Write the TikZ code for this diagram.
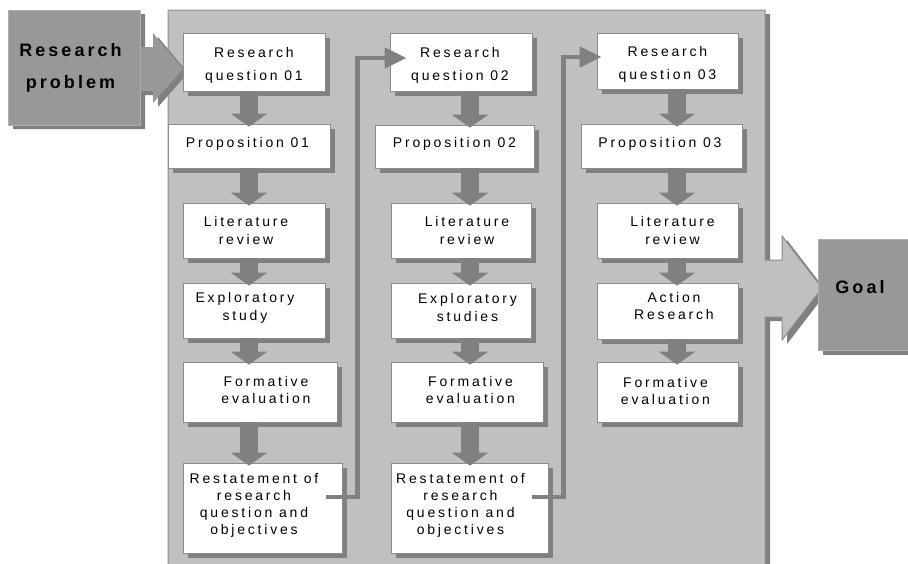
\documentclass[tikz,border=0pt]{standalone}
\usepackage{fontspec}
\setmainfont{Liberation Sans}
\newfontfamily\boxfont[LetterSpace=20]{Liberation Sans}
\newfontfamily\headfont[LetterSpace=17]{Liberation Sans Bold}
\usetikzlibrary{arrows.meta,shadows}
\definecolor{panelfill}{RGB}{192,192,192}
\definecolor{shadegray}{RGB}{128,128,128}
\definecolor{headfill}{RGB}{152,152,152}
\definecolor{edgegray}{RGB}{140,140,140}
\definecolor{lightedge}{RGB}{175,175,175}
\begin{document}
\begin{tikzpicture}[x=1pt,y=-1pt,
  wbox/.style={draw=edgegray,line width=0.8pt,fill=white,inner sep=0pt,
    drop shadow={shadow xshift=5pt,shadow yshift=-5pt,fill=shadegray,opacity=1}},
  tx/.style={font=\boxfont\fontsize{14}{18}\selectfont,align=center,inner sep=0pt,text=black},
  rqtx/.style={tx,font=\boxfont\fontsize{14}{23}\selectfont},
  tighttx/.style={tx,font=\boxfont\fontsize{14}{17}\selectfont},
  hbox/.style={fill=headfill,draw=lightedge,line width=0.8pt,inner sep=0pt},
  htx/.style={font=\headfont\fontsize{18}{32}\selectfont,align=center,inner sep=0pt,text=black},
  down/.style={draw=shadegray,line width=18pt,-{Triangle[width=36pt,length=13pt]},shorten >=-3pt},
  link/.style={draw=shadegray,line width=4.5pt,-{Triangle[width=20pt,length=22pt]}}
]
\useasboundingbox (0,0) rectangle (908,563);
\clip (0,0) rectangle (908,563);

% big panel with arrow to the goal
\fill[shadegray] (173,14) -- (770,14) -- (770,264) -- (787,264) -- (787,240) -- (827,292) -- (787,344) -- (787,321) -- (770,321) -- (770,580) -- (173,580) -- cycle;
\filldraw[fill=panelfill,draw=edgegray,line width=1pt] (168,10) -- (765,10) -- (765,260) -- (782,260) -- (782,236) -- (822,288) -- (782,340) -- (782,317) -- (765,317) -- (765,575) -- (168,575) -- cycle;

% Research problem
\fill[shadegray] (13,14) -- (145,14) -- (145,51) -- (158,51) -- (158,37) -- (188,73) -- (158,107) -- (158,95) -- (145,95) -- (145,129) -- (13,129) -- cycle;
\fill[headfill] (139,47) -- (153,47) -- (153,33) -- (183,69) -- (153,103) -- (153,91) -- (139,91) -- cycle;
\node[hbox,minimum width=132pt,minimum height=115pt,
  label={[htx,name=rpt,xshift=-3.5pt]center:Research\\problem}] (rp) at (74,67.5) {};

% Goal
\node[hbox,minimum width=94pt,minimum height=111pt,
  drop shadow={shadow xshift=5pt,shadow yshift=-5pt,fill=shadegray,opacity=1},
  label={[htx,name=goalt,xshift=-5pt,yshift=7pt]center:Goal}] (goal) at (865,294.5) {};

% column 1
\node[wbox,minimum width=142pt,minimum height=58pt,
  label={[rqtx,name=rq1t,yshift=-3pt]center:Research\\question 01}] (rq1) at (254,62) {};
\node[wbox,minimum width=162pt,minimum height=44pt,
  label={[tx,name=p1t,xshift=-1.5pt,yshift=2.5pt]center:Proposition 01}] (p1) at (249,146) {};
\node[wbox,minimum width=142pt,minimum height=55pt,
  label={[tx,name=l1t,xshift=-8pt]center:Literature\\review}] (l1) at (254,230.5) {};
\node[wbox,minimum width=142pt,minimum height=55pt,
  label={[tx,name=e1t,xshift=-9pt,yshift=3pt]center:Exploratory\\study}] (e1) at (254,310.5) {};
\node[wbox,minimum width=154pt,minimum height=60pt,
  label={[tighttx,name=f1t,xshift=6pt,yshift=2.5pt]center:Formative\\evaluation}] (f1) at (260,392) {};
\node[wbox,minimum width=159pt,minimum height=90pt,
  label={[tighttx,name=r1t,xshift=-8.5pt,yshift=2.5pt]center:Restatement of\\research\\question and\\objectives}] (r1) at (262.5,508) {};

% column 2
\node[wbox,minimum width=142pt,minimum height=58pt,
  label={[rqtx,name=rq2t,xshift=-1pt,yshift=-3pt]center:Research\\question 02}] (rq2) at (461,62) {};
\node[wbox,minimum width=159pt,minimum height=43pt,
  label={[tx,name=p2t,yshift=2.5pt]center:Proposition 02}] (p2) at (454.5,146.5) {};
\node[wbox,minimum width=140pt,minimum height=55pt,
  label={[tx,name=l2t,xshift=6pt]center:Literature\\review}] (l2) at (461,230.5) {};
\node[wbox,minimum width=140pt,minimum height=55pt,
  label={[tx,name=e2t,xshift=6.5pt,yshift=3pt]center:Exploratory\\studies}] (e2) at (461,310.5) {};
\node[wbox,minimum width=152pt,minimum height=60pt,
  label={[tighttx,name=f2t,xshift=3.5pt,yshift=2.5pt]center:Formative\\evaluation}] (f2) at (467,392) {};
\node[wbox,minimum width=157pt,minimum height=90pt,
  label={[tighttx,name=r2t,xshift=-9pt,yshift=2.5pt]center:Restatement of\\research\\question and\\objectives}] (r2) at (469.5,508) {};

% column 3
\node[wbox,minimum width=141pt,minimum height=56pt,
  label={[rqtx,name=rq3t,yshift=-3pt]center:Research\\question 03}] (rq3) at (667.5,61) {};
\node[wbox,minimum width=161pt,minimum height=44pt,
  label={[tx,name=p3t,xshift=-1.5pt,yshift=2.5pt]center:Proposition 03}] (p3) at (661.5,146) {};
\node[wbox,minimum width=141pt,minimum height=55pt,
  label={[tx,name=l3t,xshift=5pt]center:Literature\\review}] (l3) at (667.5,230.5) {};
\node[wbox,minimum width=141pt,minimum height=56pt,
  label={[tighttx,name=a3t,xshift=6.5pt,yshift=5pt]center:Action\\Research}] (a3) at (667.5,311) {};
\node[wbox,minimum width=141pt,minimum height=60pt,
  label={[tighttx,name=f3t,xshift=-2pt,yshift=1pt]center:Formative\\evaluation}] (f3) at (667.5,392) {};

% column axes for the block arrows
\coordinate (c1) at (249,0);
\coordinate (c2) at (470,0);
\coordinate (c3) at (677,0);

\draw[down] (rq1.south -| c1) -- (p1.north -| c1);
\draw[down] (p1.south -| c1) -- (l1.north -| c1);
\draw[down] (l1.south -| c1) -- (e1.north -| c1);
\draw[down] (e1.south -| c1) -- (f1.north -| c1);
\draw[down] (f1.south -| c1) -- (r1.north -| c1);

\draw[down] (rq2.south -| c2) -- (p2.north -| c2);
\draw[down] (p2.south -| c2) -- (l2.north -| c2);
\draw[down] (l2.south -| c2) -- (e2.north -| c2);
\draw[down] (e2.south -| c2) -- (f2.north -| c2);
\draw[down] (f2.south -| c2) -- (r2.north -| c2);

\draw[down] (rq3.south -| c3) -- (p3.north -| c3);
\draw[down] (p3.south -| c3) -- (l3.north -| c3);
\draw[down] (l3.south -| c3) -- (a3.north -| c3);
\draw[down] (a3.south -| c3) -- (f3.north -| c3);

% links between columns
\draw[link] ([xshift=-16pt,yshift=11pt]r1.east) -- ++(31,0) |- ([xshift=17pt,yshift=4pt]rq2.west);
\draw[link] ([xshift=-16pt,yshift=11pt]r2.east) -- ++(31,0) |- ([xshift=5pt,yshift=4pt]rq3.west);
\end{tikzpicture}
\end{document}
